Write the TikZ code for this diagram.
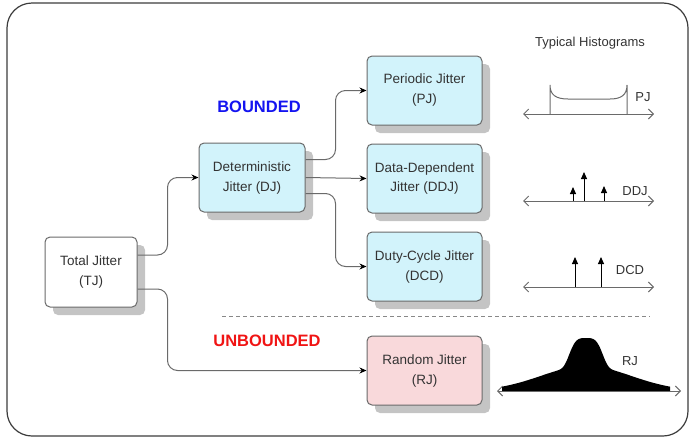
\documentclass[tikz,border=0pt]{standalone}
\usepackage{fontspec}
\setmainfont{Liberation Sans}
\usetikzlibrary{positioning,shadows,arrows.meta}
\definecolor{boxblue}{HTML}{D2F3FB}
\definecolor{boxpink}{HTML}{F9D9DB}
\definecolor{linegray}{HTML}{6A6A6A}
\definecolor{textgray}{HTML}{333333}
\definecolor{shadowgray}{HTML}{C4C4C4}
\definecolor{framegray}{HTML}{3C3C3C}
\definecolor{boundblue}{HTML}{1414F0}
\definecolor{unboundred}{HTML}{F01414}

\begin{document}
\begin{tikzpicture}[x=1pt,y=-1pt,
        jitternode/.style={rectangle, rounded corners=5pt, draw=linegray, line width=1pt, fill=white, text=textgray, align=center, inner sep=0pt,
            font=\fontsize{13.5}{20}\selectfont, minimum width=115pt, minimum height=69pt,
            drop shadow={shadow xshift=8pt, shadow yshift=-8pt, fill=shadowgray, opacity=1, draw=none}},
        totalnode/.style={jitternode, minimum width=92pt, minimum height=70pt},
        detnode/.style={jitternode, fill=boxblue},
        randnode/.style={jitternode, fill=boxpink},
        rangelabel/.style={font=\fontsize{16.5}{18}\selectfont\bfseries},
        histlabel/.style={font=\fontsize{13}{15}\selectfont, text=textgray},
        link/.style={draw=linegray, line width=1pt, rounded corners=10pt, -{Stealth[length=7pt,width=6pt,black]}},
        histaxis/.style={draw=linegray, line width=1pt, {Straight Barb[length=5pt,width=10pt]}-{Straight Barb[length=5pt,width=10pt]}},
        impulse/.style={draw=black, line width=1pt, -{Triangle[length=7pt,width=6pt]}},
        ]
        \useasboundingbox (0,0) rectangle (690,437);
        \draw[framegray, line width=1.2pt, rounded corners=25pt] (7,3) rectangle (688,436);

        %Nodes
        \node[totalnode] (tj) at (91,272) {Total Jitter\\(TJ)};
        \node[detnode, minimum width=106pt] (dj) at (252,177.5) {Deterministic\\Jitter (DJ)};
        \node[detnode] (pj) at (424.5,90.5) {Periodic Jitter\\(PJ)};
        \node[detnode] [below= 18pt of pj] (ddj) {Data-Dependent\\Jitter (DDJ)};
        \node[detnode] [below= 18pt of ddj] (dcd) {Duty-Cycle Jitter\\(DCD)};
        \node[randnode] [below= 34pt of dcd] (rj) {Random Jitter\\(RJ)};

        \node[rangelabel, text=boundblue] (bounded) at (259,107) {BOUNDED};
        \node[rangelabel, text=unboundred] (unbounded) at (267,341) {UNBOUNDED};
        \node[histlabel] (typical) at (590,43) {Typical Histograms};

        \coordinate (sepl) at (222,316);
        \coordinate (sepr) at (650,316);
        \draw[linegray!80, line width=1pt, dash pattern=on 4pt off 3pt] (sepl) -- (sepr);

        %Lines
        \draw [link] ([yshift=17pt]tj.east) -- ++(30,0) |- (dj.west);
        \draw [link] ([yshift=-17pt]tj.east) -- ++(30,0) |- (rj.west);
        \draw [link] ([yshift=18pt]dj.east) -- ++(30,0) |- (pj.west);
        \draw [link] (dj.east) -- (ddj.west);
        \draw [link] ([yshift=-16pt]dj.east) -- ++(30,0) |- (dcd.west);

        %Histograms
        \draw [histaxis] (523,114) -- (654,114);
        \draw [linegray, line width=1pt] (550,114) -- (550,85) .. controls (550,95) and (556,99) .. (568,99)
            -- (610,99) .. controls (621,99) and (627,95) .. (627,85) -- (627,114);
        \node[histlabel] (pjl) at (643,97) {PJ};

        \draw [histaxis] (523,201) -- (654,201);
        \draw [impulse] (573,201) -- (573,187);
        \draw [impulse] (584,201) -- (584,172);
        \draw [impulse] (604,201) -- (604,186);
        \node[histlabel] (ddjl) at (635,191) {DDJ};

        \draw [histaxis] (523,287) -- (654,287);
        \draw [impulse] (575,287) -- (575,257);
        \draw [impulse] (601,287) -- (601,257);
        \node[histlabel] (dcdl) at (630,270) {DCD};

        \fill [black] (502,391) -- plot[domain=-84:84, samples=121]
            ({586+\x},{391-28*exp(max(-20,-(\x*\x/324)*(\x*\x/324)))-25*exp(-\x*\x/4050)}) -- (670,391) -- cycle;
        \draw [histaxis] (497,391) -- (681,391);
        \node[histlabel] (rjl) at (630,361) {RJ};
    \end{tikzpicture}
\end{document}
